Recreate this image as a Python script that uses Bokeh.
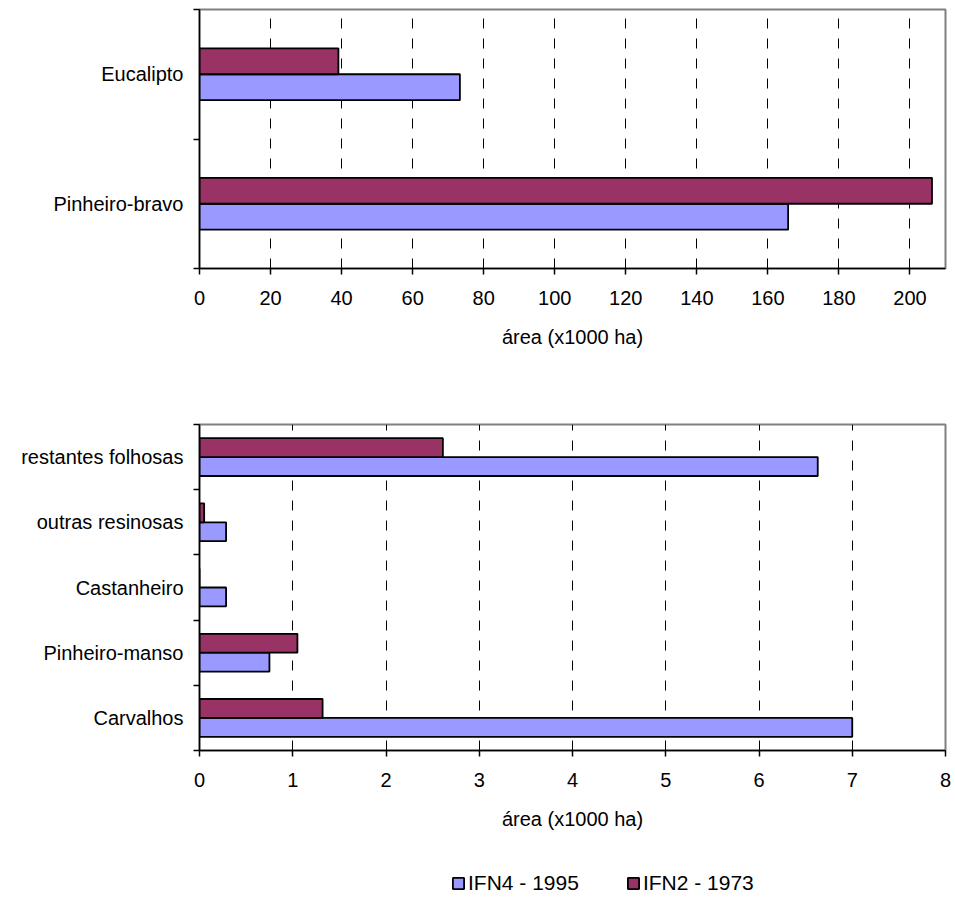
from bokeh.plotting import figure
from bokeh.models import Range1d, FixedTicker, Legend, LegendItem, ColumnDataSource
from bokeh.layouts import column
from bokeh.embed import file_html
from bokeh.resources import INLINE
from bokeh.transform import dodge

# ---- data (categories listed bottom -> top) ----
top_categories = ["Pinheiro-bravo", "Eucalipto"]
top_ifn4 = [165.7, 73.3]
top_ifn2 = [206.2, 39.1]
top_xmax = 210
top_ticks = [0, 20, 40, 60, 80, 100, 120, 140, 160, 180, 200]

bottom_categories = ["Carvalhos", "Pinheiro-manso", "Castanheiro",
                     "outras resinosas", "restantes folhosas"]
bottom_ifn4 = [7.0, 0.75, 0.285, 0.285, 6.63]
bottom_ifn2 = [1.32, 1.05, 0.0, 0.05, 2.61]
bottom_xmax = 8
bottom_ticks = [0, 1, 2, 3, 4, 5, 6, 7, 8]

series_labels = ["IFN4 - 1995", "IFN2 - 1973"]
x_label = "área (x1000 ha)"

C4 = "#9999FF"
C2 = "#993366"
FONT = "Liberation Sans"
FS = "20px"
BAR_LW = 1.8


def make_chart(cats, ifn4, ifn2, xmax, ticks, bar_h, width, height,
               left, right, top, bottom):
    ypos = [i + 0.5 for i in range(len(cats))]
    src = ColumnDataSource(dict(y=ypos, ifn4=ifn4, ifn2=ifn2))
    p = figure(width=width, height=height,
               x_range=Range1d(0, xmax), y_range=Range1d(0, len(cats)),
               output_backend="svg", toolbar_location=None,
               min_border_left=left, min_border_right=right,
               min_border_top=top, min_border_bottom=bottom)
    p.background_fill_color = "white"
    p.border_fill_color = "white"
    p.outline_line_color = "#808080"
    p.outline_line_width = 2

    r4 = p.hbar(y=dodge("y", -bar_h / 2), left=0, right="ifn4", height=bar_h,
                source=src, fill_color=C4, line_color="black", line_width=BAR_LW)
    r2 = p.hbar(y=dodge("y", bar_h / 2), left=0, right="ifn2", height=bar_h,
                source=src, fill_color=C2, line_color="black", line_width=BAR_LW)

    # grid
    p.ygrid.visible = False
    p.xgrid.ticker = FixedTicker(ticks=[t for t in ticks if 0 < t < xmax])
    p.xgrid.grid_line_color = "black"
    p.xgrid.grid_line_dash = "10 10"
    p.xgrid.grid_line_width = 1

    # x axis
    xa = p.xaxis[0]
    xa.ticker = FixedTicker(ticks=ticks)
    xa.axis_line_color = "black"
    xa.axis_line_width = 1.5
    xa.major_tick_line_color = "black"
    xa.major_tick_line_width = 1.5
    xa.major_tick_in = 0
    xa.major_tick_out = 6
    xa.minor_tick_line_color = None
    xa.major_label_text_font = FONT
    xa.major_label_text_font_size = FS
    xa.major_label_text_color = "black"
    xa.major_label_standoff = 16
    xa.axis_label = x_label
    xa.axis_label_text_font = FONT
    xa.axis_label_text_font_size = FS
    xa.axis_label_text_font_style = "normal"
    xa.axis_label_text_color = "black"
    xa.axis_label_standoff = 18

    # y axis: labels at category centres, ticks at category boundaries
    ya = p.yaxis[0]
    ya.ticker = FixedTicker(ticks=ypos, minor_ticks=list(range(len(cats) + 1)))
    ya.major_label_overrides = {v: c for v, c in zip(ypos, cats)}
    ya.axis_line_color = "black"
    ya.axis_line_width = 1.5
    ya.major_tick_line_color = None
    ya.minor_tick_line_color = "black"
    ya.minor_tick_line_width = 1.5
    ya.minor_tick_in = 0
    ya.minor_tick_out = 6
    ya.major_label_text_font = FONT
    ya.major_label_text_font_size = FS
    ya.major_label_text_color = "black"
    ya.major_label_standoff = 10
    return p, r4, r2


p1, _, _ = make_chart(top_categories, top_ifn4, top_ifn2, top_xmax, top_ticks,
                      0.2, 955, 388, 198, 10, 9, 120)
p2, _, _ = make_chart(bottom_categories, bottom_ifn4, bottom_ifn2, bottom_xmax,
                      bottom_ticks, 0.29, 955, 474, 199, 7, 36, 112)

# legend strip (proxy renderers lie outside the visible range)
p3 = figure(width=955, height=35, x_range=Range1d(0, 1), y_range=Range1d(0, 1),
            output_backend="svg", toolbar_location=None,
            x_axis_location=None, y_axis_location=None,
            min_border_left=0, min_border_right=0, min_border_top=0,
            min_border_bottom=0)
p3.outline_line_color = None
p3.xgrid.visible = False
p3.ygrid.visible = False
proxy = ColumnDataSource(dict(y=[-5], right=[0]))
l4 = p3.hbar(y="y", left=0, right="right", height=0.1, source=proxy,
             fill_color=C4, line_color="black", line_width=BAR_LW)
l2 = p3.hbar(y="y", left=0, right="right", height=0.1, source=proxy,
             fill_color=C2, line_color="black", line_width=BAR_LW)
legend = Legend(items=[LegendItem(label=series_labels[0], renderers=[l4]),
                       LegendItem(label=series_labels[1], renderers=[l2])],
                orientation="horizontal", location=(252, 2),
                padding=0, margin=0, spacing=47,
                glyph_width=14, glyph_height=14, label_standoff=3,
                border_line_color=None, background_fill_alpha=0,
                label_text_font=FONT, label_text_font_size="21px",
                label_text_color="black")
p3.add_layout(legend, "center")

layout = column(p1, p2, p3)
open("out.html", "w").write(file_html(layout, INLINE))
